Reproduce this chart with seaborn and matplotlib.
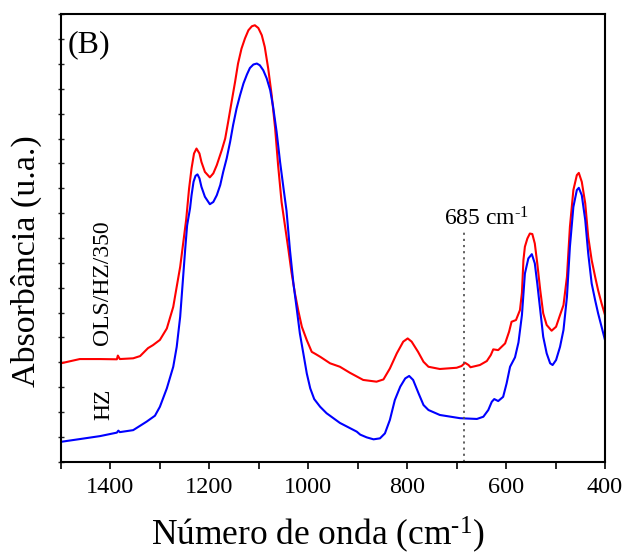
import numpy as np
import pandas as pd
import matplotlib
matplotlib.use("Agg")
import matplotlib.pyplot as plt
import seaborn as sns
from matplotlib.ticker import MultipleLocator

# FTIR spectra (absorbance, arbitrary units, curves offset for clarity)
wn_ols = [1500, 1462, 1421, 1387, 1385, 1381, 1354, 1340, 1324, 1314, 1300, 1286,
          1273, 1266, 1259, 1253, 1247, 1246, 1241, 1236, 1231, 1226, 1220, 1216,
          1209, 1199, 1192, 1185, 1175, 1168, 1162, 1155, 1148, 1142, 1135, 1128,
          1121, 1114, 1108, 1101, 1094, 1088, 1081, 1074, 1067, 1061, 1054, 1047,
          1040, 1034, 1027, 1020, 1013, 1003, 993, 985, 975, 956, 936, 916, 889,
          862, 848, 835, 821, 808, 799, 791, 778, 767, 757, 734, 700, 690, 683,
          676, 672, 653, 639, 631, 626, 616, 602, 594, 589, 580, 572, 568, 565,
          562, 557, 552, 547, 542, 537, 531, 525, 518, 508, 499, 491, 484, 477,
          471, 464, 457, 453, 447, 440, 434, 427, 420, 414, 407, 400]
abs_ols = [3.96, 4.13, 4.13, 4.12, 4.27, 4.13, 4.16, 4.25, 4.57, 4.69, 4.90, 5.36,
           6.23, 7.04, 7.84, 8.78, 9.72, 9.92, 10.99, 11.80, 12.40, 12.60, 12.40, 12.06,
           11.66, 11.44, 11.60, 11.93, 12.53, 13.00, 13.67, 14.48, 15.28, 16.02, 16.62, 17.03,
           17.36, 17.52, 17.56, 17.45, 17.16, 16.69, 15.82, 14.75, 13.41, 11.93, 10.45, 9.48,
           8.51, 7.63, 6.78, 6.06, 5.43, 4.89, 4.42, 4.33, 4.21, 3.96, 3.82, 3.58, 3.29,
           3.22, 3.31, 3.75, 4.36, 4.83, 4.96, 4.83, 4.42, 4.02, 3.82, 3.73, 3.78, 3.85, 3.98,
           3.89, 3.80, 3.89, 4.05, 4.29, 4.52, 4.49, 4.76, 5.23, 5.63, 5.70, 6.10, 6.80, 8.11,
           8.65, 8.98, 9.18, 9.16, 8.78, 7.98, 6.90, 5.97, 5.50, 5.27, 5.43, 5.90, 6.30, 7.44,
           9.45, 10.93, 11.53, 11.62, 11.26, 10.39, 9.05, 8.11, 7.44, 6.90, 6.37, 5.90]

wn_hz = [1500, 1462, 1421, 1387, 1384, 1381, 1354, 1327, 1310, 1300, 1286, 1273,
         1266, 1259, 1254, 1249, 1245, 1239, 1236, 1232, 1228, 1224, 1220, 1216,
         1209, 1199, 1192, 1185, 1178, 1172, 1165, 1158, 1152, 1145, 1138, 1131,
         1124, 1118, 1111, 1104, 1098, 1091, 1084, 1077, 1071, 1064, 1057, 1050,
         1044, 1037, 1030, 1023, 1017, 1010, 1003, 996, 988, 976, 963, 936, 902,
         895, 882, 868, 855, 845, 835, 825, 814, 804, 796, 788, 777, 767, 757,
         734, 693, 659, 646, 636, 629, 624, 616, 606, 599, 592, 582, 575, 568,
         562, 555, 548, 542, 537, 531, 525, 518, 511, 506, 499, 491, 484, 477,
         471, 464, 457, 453, 447, 440, 434, 427, 420, 414, 407, 400]
abs_hz = [0.80, 0.91, 1.03, 1.17, 1.25, 1.19, 1.27, 1.61, 1.85, 2.21, 2.95, 3.82,
          4.62, 5.83, 7.17, 8.51, 9.50, 10.20, 10.72, 11.26, 11.50, 11.56, 11.40, 11.06,
          10.66, 10.36, 10.45, 10.72, 11.13, 11.66, 12.20, 12.87, 13.54, 14.21, 14.74, 15.22,
          15.58, 15.84, 15.98, 16.02, 15.95, 15.75, 15.42, 14.95, 14.27, 13.27, 12.06, 10.99,
          10.10, 8.51, 7.17, 6.10, 5.16, 4.36, 3.55, 2.95, 2.52, 2.21, 1.95, 1.56, 1.21,
          1.09, 0.98, 0.90, 0.94, 1.14, 1.68, 2.48, 3.02, 3.35, 3.45, 3.29, 2.75, 2.28, 2.08,
          1.88, 1.75, 1.72, 1.81, 2.08, 2.41, 2.52, 2.44, 2.61, 3.15, 3.82, 4.20, 4.80, 5.90,
          7.57, 8.18, 8.35, 7.98, 7.17, 6.10, 5.03, 4.36, 3.96, 3.89, 4.09, 4.62, 5.30, 6.63,
          8.65, 10.25, 10.93, 11.02, 10.72, 9.72, 8.38, 7.17, 6.50, 5.97, 5.43, 4.89]

marker_wn = 685
x_ticks = [1400, 1200, 1000, 800, 600, 400]

sns.set_theme(style="ticks")
plt.rcParams["font.family"] = ["Liberation Serif", "DejaVu Serif"]
plt.rcParams["mathtext.fontset"] = "custom"
plt.rcParams["mathtext.rm"] = "Liberation Serif"
plt.rcParams["mathtext.it"] = "Liberation Serif:italic"

df = pd.concat([
    pd.DataFrame({"wn": wn_ols, "A": abs_ols, "amostra": "OLS/HZ/350"}),
    pd.DataFrame({"wn": wn_hz, "A": abs_hz, "amostra": "HZ"}),
])

fig = plt.figure(figsize=(6.26, 5.55), dpi=100)
ax = fig.add_axes([0.0974, 0.1681, 0.8691, 0.8061])

sns.lineplot(data=df, x="wn", y="A", hue="amostra", sort=False, estimator=None,
             palette={"OLS/HZ/350": "#ff0000", "HZ": "#0000ff"},
             linewidth=1.5, legend=False, ax=ax)

ax.axvline(marker_wn, ymin=0, ymax=0.518, color="#555555",
           linestyle=(0, (1.2, 2.2)), linewidth=1.3)
ax.text(640, 9.3, r"685 cm$^{\text{-1}}$", ha="center", va="bottom", fontsize=17,
        color="black")

ax.text(1417, 7.19, "OLS/HZ/350", rotation=90, ha="center", va="center",
        fontsize=17, color="black")
ax.text(1413, 2.32, "HZ", rotation=90, ha="center", va="center",
        fontsize=17, color="black")
ax.text(0.012, 0.965, "(B)", transform=ax.transAxes, ha="left", va="top",
        fontsize=23, color="black")

ax.set_xlim(1500, 400)
ax.set_ylim(0, 18)
ax.set_xticks(x_ticks)
ax.set_xticklabels([str(t) for t in x_ticks])
ax.xaxis.set_minor_locator(MultipleLocator(100))
ax.yaxis.set_major_locator(MultipleLocator(1))
ax.set_yticklabels([])
ax.tick_params(axis="x", which="both", direction="out", length=5, width=1.2,
               labelsize=17.5, pad=6, colors="black")
ax.tick_params(axis="y", which="major", direction="inout", length=4, width=1.0)
ax.tick_params(axis="y", which="minor", left=False)

for s in ax.spines.values():
    s.set_visible(True)
    s.set_color("black")
    s.set_linewidth(1.5)

ax.set_xlabel(r"Número de onda (cm$^{\text{-1}}$)", fontsize=25.5, color="black")
ax.set_ylabel("Absorbância (u.a.)", fontsize=24.5, color="black")
ax.xaxis.set_label_coords(0.473, -0.118)
ax.yaxis.set_label_coords(-0.035, 0.449)

fig.savefig("out.png", dpi=100)
